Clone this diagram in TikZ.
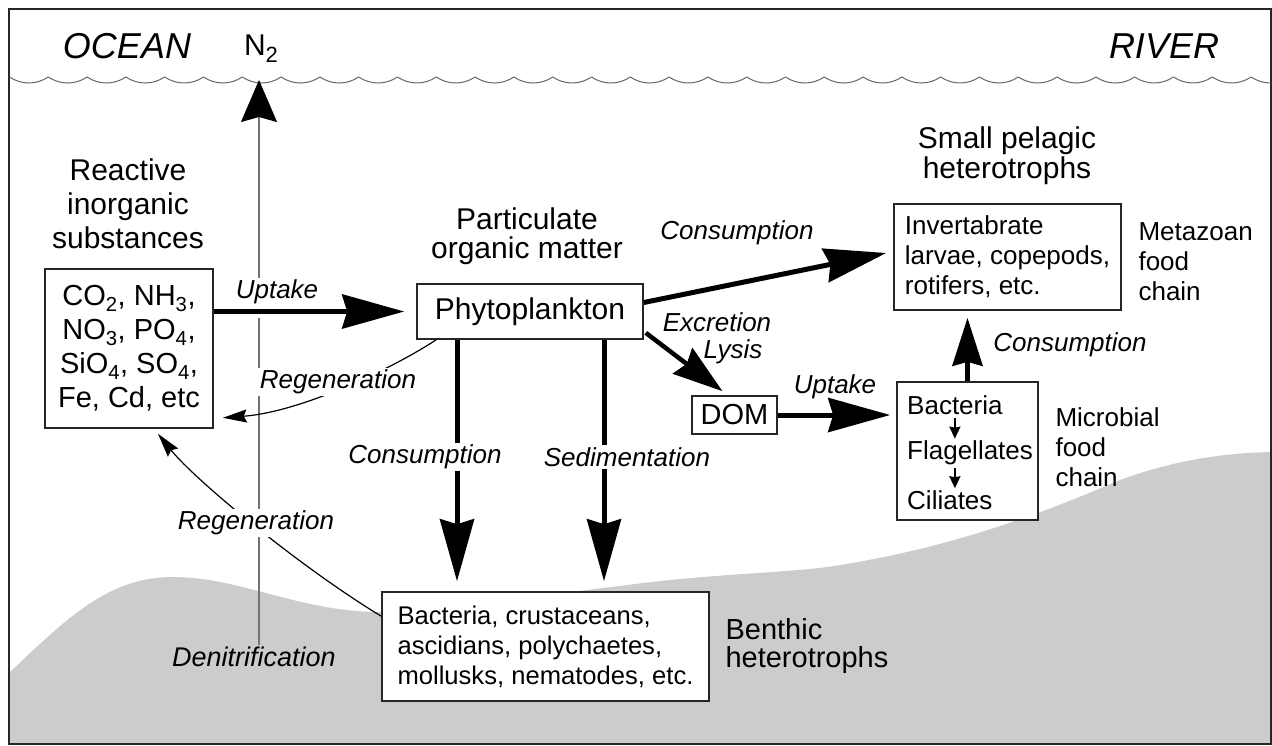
\documentclass[tikz,border=0pt]{standalone}
\usepackage{fontspec}
\setmainfont{Liberation Sans}
\usetikzlibrary{arrows.meta,calc}

\begin{document}
\begin{tikzpicture}[x=1pt, y=-1pt,
  box/.style={draw=black!85, line width=1.6pt, fill=white, inner sep=0pt},
  head/.style={align=center, font=\fontsize{30}{33}\selectfont},
  side/.style={anchor=west, align=left, font=\fontsize{26}{30}\selectfont},
  lbl/.style={inner sep=2pt, font=\fontsize{26}{30}\selectfont\itshape},
  cut/.style={fill=white},
  flow/.style={line width=5pt, -{Stealth[length=62pt, width=34pt, inset=5pt]}},
  regen/.style={line width=1.2pt, -{Stealth[length=24pt, width=13pt, inset=3pt]}},
  chain/.style={line width=2pt, -{Stealth[length=12pt, width=11pt, inset=1pt]}, shorten <=3pt, shorten >=2pt}]
  \useasboundingbox (0,0) rectangle (1272,745);
  % sea floor
  \fill[black!20] (9,673) .. controls (70,615) and (110,577) .. (173,577)
    .. controls (240,577) and (300,612) .. (380,612)
    .. controls (460,612) and (560,592) .. (620,586)
    .. controls (700,575) and (760,574) .. (820,568)
    .. controls (950,550) and (1050,510) .. (1120,480)
    .. controls (1180,458) and (1230,453) .. (1271,452) -- (1271,744) -- (9,744) -- cycle;
  \draw[black!85, line width=1.8pt] (9,9) rectangle (1271,744);
  % water surface
  \begin{scope}
    \clip (9,0) rectangle (1271,745);
    \foreach \k in {-1,...,32}
      \draw[black!60, line width=1pt] ({9.5+38.8*\k},77) .. controls ({21.5+38.8*\k},85) and ({36.3+38.8*\k},85) .. ({48.3+38.8*\k},77);
  \end{scope}
  \node[font=\fontsize{36}{40}\selectfont\itshape] (ocean) at (127,46) {OCEAN};
  \node[font=\fontsize{36}{40}\selectfont\itshape] (river) at (1164,46) {RIVER};
  \node[font=\fontsize{30}{32}\selectfont] (ntwo) at (261,49) {N\raisebox{-7pt}{\fontsize{22}{22}\selectfont 2}};
  \coordinate (surf) at (259,80);

  % compartments
  \node[head, font=\fontsize{30}{34}\selectfont] (reactive) at (128,204) {Reactive\\inorganic\\substances};
  \node[head, font=\fontsize{30}{29}\selectfont] (pom) at (527,236) {Particulate\\organic matter};
  \node[head, font=\fontsize{30}{30}\selectfont] (pelagic) at (1007,156) {Small pelagic\\heterotrophs};
  \node[box, minimum width=168, minimum height=159, align=center, font=\fontsize{29}{34}\selectfont] (inorg) at (129,348.5)
    {CO\textsubscript{2}, NH\textsubscript{3},\\NO\textsubscript{3}, PO\textsubscript{4},\\SiO\textsubscript{4}, SO\textsubscript{4},\\Fe, Cd, etc};
  \node[box, minimum width=226, minimum height=55, font=\fontsize{30}{34}\selectfont] (phyto) at (530,311.5) {Phytoplankton};
  \node[box, minimum width=85, minimum height=38, font=\fontsize{29}{34}\selectfont] (dom) at (734.5,415) {DOM};
  \node[box, minimum width=227, minimum height=106, align=left, font=\fontsize{26}{30}\selectfont] (meta) at (1007.5,257)
    {Invertabrate\\larvae, copepods,\\rotifers, etc.};
  \node[box, minimum width=141, minimum height=138] (micro) at (967.5,451) {};
  \foreach \n/\t/\y in {bact/Bacteria/405, flag/Flagellates/453, cil/Ciliates/500}
    \node[anchor=west, inner sep=0pt, font=\fontsize{26}{30}\selectfont] (\n) at (907,\y) {\t};
  \node[box, minimum width=327, minimum height=109, align=left, font=\fontsize{25.6}{30}\selectfont] (benthic) at (545.5,646.5)
    {Bacteria, crustaceans,\\ascidians, polychaetes,\\mollusks, nematodes, etc.};
  \node[side] (metachain) at (1135,262) {Metazoan\\food\\chain};
  \node[side] (microchain) at (1052,447) {Microbial\\food\\chain};
  \node[side, font=\fontsize{29}{28}\selectfont] (benthhet) at (722,646) {Benthic\\heterotrophs};
  \node[lbl, font=\fontsize{27}{30}\selectfont\itshape] (denit) at (254,657) {Denitrification};

  % denitrification to the atmosphere
  \draw[black!55, line width=1.3pt, -{Stealth[length=42pt, width=36pt, inset=5pt, color=black]}] (denit.north -| surf) -- (surf);
  \draw[white, line width=12pt, shorten <=2pt, shorten >=2pt] (inorg.east |- phyto.west) -- (phyto.west);

  % fluxes
  \draw[flow, shorten >=12pt] (inorg.east |- phyto.west) -- (phyto.west);
  \draw[flow] ($(phyto.east)+(0,-9)$) -- ($(meta.west)+(-7,-4)$);
  \draw[flow, line width=4.5pt, -{Stealth[length=50pt, width=32pt, inset=5pt]}] ($(phyto.south east)+(2,-7)$) -- ($(dom.north)+(-12,-4)$);
  \draw[flow] ($(phyto.south)+(-73,0)$) -- ($(benthic.north)+(-88.5,-10)$);
  \draw[flow] ($(phyto.south)+(74,0)$) -- ($(benthic.north)+(58.5,-10)$);
  \draw[flow, shorten >=6pt] (dom.east) -- (dom.east -| micro.west);
  \draw[flow, -{Stealth[length=48pt, width=30pt, inset=4pt]}, shorten >=7pt] (micro.north) -- (micro.north |- meta.south);
  \draw[regen] ($(phyto.south west)+(20,0)$) .. controls (390,370) and (300,412) .. ($(inorg.south east)+(9,-11)$);
  \draw[regen] ($(benthic.north west)+(0,25)$) .. controls (300,567) and (195,480) .. ($(inorg.south)+(29,5)$);
  \draw[chain] (bact.south) -- (bact.south |- flag.north);
  \draw[chain] (bact.south |- flag.south) -- (bact.south |- cil.north);

  % flux labels
  \node[lbl, cut] (uptake) at (277,292) {Uptake};
  \node[lbl, cut] (regenup) at (338,382) {Regeneration};
  \node[lbl, cut] (regenlow) at (256,523) {Regeneration};
  \node[lbl, cut] (graze) at (425,457) {Consumption};
  \node[lbl, cut] (sedim) at (627,457) {Sedimentation};
  \node[lbl] (excr) at (717,322) {Excretion};
  \node[lbl] (lysis) at (733,352) {Lysis};
  \node[lbl] (uptakedom) at (835,387) {Uptake};
  \node[lbl] (grazetop) at (737,233) {Consumption};
  \node[lbl] (grazemicro) at (1070,345) {Consumption};
\end{tikzpicture}
\end{document}
